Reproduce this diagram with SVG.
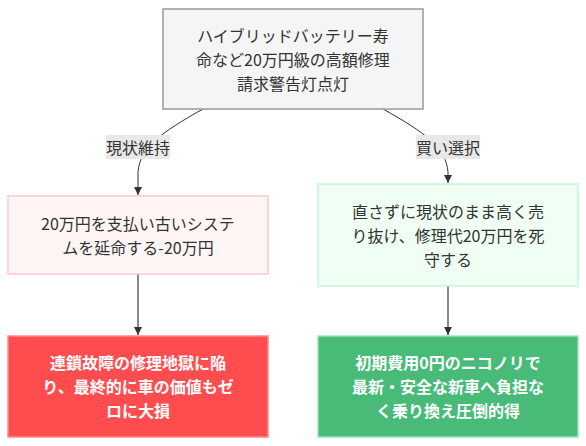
<svg xmlns="http://www.w3.org/2000/svg" width="586" height="446" viewBox="0 0 586 446">
<defs>
<marker id="arr" viewBox="0 0 10 10" refX="10" refY="5" markerWidth="8" markerHeight="8" markerUnits="userSpaceOnUse" orient="auto">
<path d="M0,0 L10,5 L0,10 z" fill="#333"/>
</marker>
</defs>
<style>
text{font-family:"Noto Sans CJK JP","Noto Sans",sans-serif;font-size:16px;text-anchor:middle;dominant-baseline:central;fill:#333}
.w{fill:#fff;font-weight:bold}
.e1{fill:none;stroke:#333;stroke-width:1}
.e2{fill:none;stroke:#888;stroke-width:2}
.lb{fill:#e8e8e8}
</style>
<rect width="586" height="446" fill="#fff"/>
<g id="edges">
<path class="e1" d="M203,109 C160,133 140,148 138,172 L138,195" marker-end="url(#arr)"/>
<path class="e1" d="M383,109 C426,133 446,148 448,172 L448,183" marker-end="url(#arr)"/>
<path class="e2" d="M138,274 L138,335" marker-end="url(#arr)"/>
<path class="e2" d="M448,286 L448,335" marker-end="url(#arr)"/>
<g id="label1"><rect class="lb" x="106" y="135" width="64" height="24"/><text x="138" y="147">現状維持</text></g>
<g id="label2"><rect class="lb" x="416" y="135" width="64" height="24"/><text x="448" y="147">買い選択</text></g>
</g>
<g id="A">
<rect x="163" y="9" width="260" height="100" fill="#f5f5f5" stroke="#999" stroke-width="1.5"/>
<text x="293" y="35">ハイブリッドバッテリー寿</text>
<text x="293" y="59">命など20万円級の高額修理</text>
<text x="293" y="83">請求警告灯点灯</text>
</g>
<g id="B">
<rect x="8" y="196" width="260" height="78" fill="#fff5f5" stroke="#ffc9c9" stroke-width="1.5"/>
<text x="138" y="223">20万円を支払い古いシステ</text>
<text x="138" y="247">ムを延命する-20万円</text>
</g>
<g id="C">
<rect x="318" y="184" width="260" height="102" fill="#f0fff4" stroke="#c6f6d5" stroke-width="1.5"/>
<text x="448" y="211">直さずに現状のまま高く売</text>
<text x="448" y="235">り抜け、修理代20万円を死</text>
<text x="448" y="259">守する</text>
</g>
<g id="D">
<rect x="8" y="336" width="260" height="101" fill="#ff4d4f" stroke="#ff8a8a" stroke-width="1.5"/>
<text class="w" x="138" y="362">連鎖故障の修理地獄に陥</text>
<text class="w" x="138" y="386">り、最終的に車の価値もゼ</text>
<text class="w" x="138" y="410">ロに大損</text>
</g>
<g id="E">
<rect x="318" y="336" width="260" height="101" fill="#48bb78" stroke="#9ae6b4" stroke-width="1.5"/>
<text class="w" x="448" y="362">初期費用0円のニコノリで</text>
<text class="w" x="448" y="386">最新・安全な新車へ負担な</text>
<text class="w" x="448" y="410">く乗り換え圧倒的得</text>
</g>
</svg>
